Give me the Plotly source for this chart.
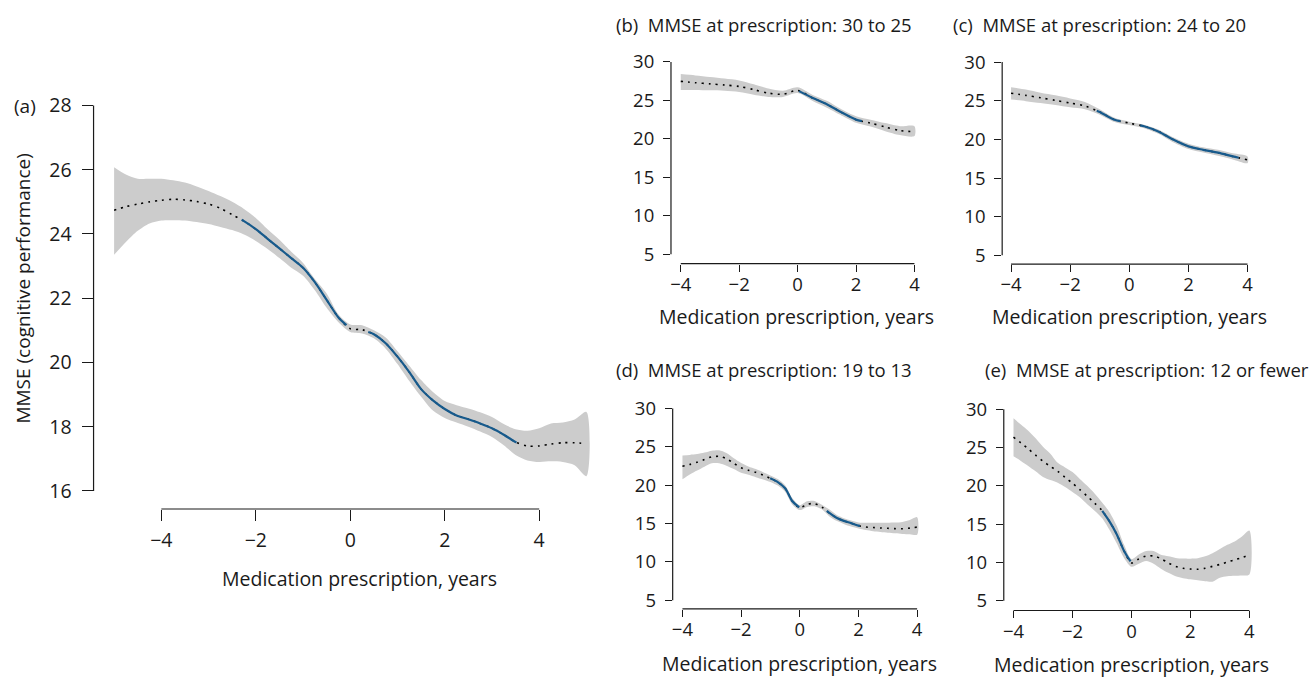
import numpy as np
import plotly.graph_objects as go

W, H = 1315, 680

# ---------------- data ----------------
# (a) all patients
a_x = [-5.0, -4.75, -4.5, -4.25, -4.0, -3.75, -3.5, -3.25, -3.0, -2.75, -2.5, -2.25, -2.0, -1.75, -1.5,
       -1.25, -1.0, -0.75, -0.5, -0.25, 0.0, 0.25, 0.5, 0.75, 1.0, 1.25, 1.5, 1.75, 2.0, 2.25, 2.5, 2.75,
       3.0, 3.25, 3.5, 3.75, 4.0, 4.25, 4.5, 4.75, 5.0]
a_mean = [24.74, 24.85, 24.93, 25.0, 25.05, 25.08, 25.06, 25.01, 24.93, 24.8, 24.6, 24.4, 24.15, 23.85, 23.55,
          23.25, 22.95, 22.5, 21.95, 21.4, 21.05, 21.02, 20.88, 20.6, 20.18, 19.7, 19.17, 18.82, 18.55, 18.35,
          18.23, 18.1, 17.95, 17.75, 17.52, 17.4, 17.4, 17.46, 17.5, 17.5, 17.47]
a_upper = [26.08, 25.85, 25.72, 25.72, 25.72, 25.67, 25.6, 25.48, 25.34, 25.18, 25.0, 24.78, 24.5, 24.15, 23.82,
           23.45, 23.1, 22.6, 22.15, 21.5, 21.18, 21.16, 21.0, 20.78, 20.35, 19.9, 19.45, 19.08, 18.8, 18.67,
           18.57, 18.45, 18.3, 18.08, 17.92, 17.87, 17.95, 18.1, 18.13, 18.22, 18.46]
a_lower = [23.35, 23.75, 24.1, 24.33, 24.42, 24.43, 24.42, 24.37, 24.31, 24.22, 24.12, 23.98, 23.78, 23.53, 23.25,
           22.95, 22.7, 22.25, 21.7, 21.25, 20.95, 20.9, 20.75, 20.43, 19.95, 19.42, 18.93, 18.5, 18.27, 18.13,
           18.0, 17.85, 17.68, 17.42, 17.12, 16.95, 16.9, 16.92, 16.9, 16.8, 16.46]
a_solid = [(-2.3, -0.08), (0.38, 3.52)]

# (b) MMSE at prescription 30 to 25
b_x = [-4.0, -3.5, -3.0, -2.5, -2.0, -1.5, -1.0, -0.5, 0.0, 0.5, 1.0, 1.5, 2.0, 2.5, 3.0, 3.5, 4.0]
b_mean = [27.48, 27.3, 27.15, 27.0, 26.82, 26.4, 25.95, 25.8, 26.3, 25.35, 24.5, 23.45, 22.5, 22.05, 21.55, 21.08, 20.93]
b_upper = [28.42, 28.25, 28.05, 27.85, 27.6, 27.1, 26.55, 26.25, 26.7, 25.75, 24.95, 23.85, 22.95, 22.5, 22.05, 21.65, 21.65]
b_lower = [26.36, 26.36, 26.32, 26.25, 26.1, 25.75, 25.45, 25.45, 25.95, 24.95, 24.05, 23.05, 22.1, 21.6, 21.0, 20.5, 20.37]
b_solid = [(0.05, 2.2)]

# (c) MMSE at prescription 24 to 20
c_x = [-4.0, -3.5, -3.0, -2.5, -2.0, -1.5, -1.0, -0.5, 0.0, 0.5, 1.0, 1.5, 2.0, 2.5, 3.0, 3.5, 4.0]
c_mean = [25.97, 25.7, 25.38, 25.05, 24.7, 24.33, 23.55, 22.55, 22.1, 21.7, 21.0, 19.95, 19.1, 18.65, 18.28, 17.8, 17.35]
c_upper = [26.74, 26.45, 26.05, 25.7, 25.3, 24.85, 23.9, 22.8, 22.3, 21.9, 21.25, 20.25, 19.45, 18.98, 18.65, 18.2, 17.78]
c_lower = [25.15, 24.95, 24.7, 24.45, 24.15, 23.9, 23.2, 22.25, 21.85, 21.45, 20.7, 19.6, 18.75, 18.3, 17.88, 17.4, 16.93]
c_solid = [(-1.1, -0.3), (0.37, 3.7)]

# (d) MMSE at prescription 19 to 13
d_x = [-4.0, -3.75, -3.5, -3.25, -3.0, -2.75, -2.5, -2.25, -2.0, -1.75, -1.5, -1.25, -1.0, -0.75, -0.5, -0.25,
       0.0, 0.25, 0.5, 0.75, 1.0, 1.25, 1.5, 1.75, 2.0, 2.25, 2.5, 2.75, 3.0, 3.25, 3.5, 3.75, 4.0]
d_mean = [22.48, 22.7, 23.0, 23.35, 23.7, 23.75, 23.45, 22.85, 22.27, 21.95, 21.68, 21.3, 20.88, 20.4, 19.6, 17.9,
          17.05, 17.5, 17.6, 17.15, 16.4, 15.75, 15.35, 15.05, 14.72, 14.55, 14.48, 14.42, 14.38, 14.33, 14.32, 14.4, 14.54]
d_upper = [23.86, 23.95, 24.05, 24.25, 24.5, 24.55, 24.2, 23.5, 22.9, 22.45, 22.1, 21.7, 21.27, 20.8, 20.0, 18.3,
           17.4, 17.9, 17.95, 17.45, 16.85, 16.15, 15.7, 15.4, 15.15, 15.1, 15.1, 15.1, 15.1, 15.12, 15.2, 15.45, 15.82]
d_lower = [20.76, 21.4, 21.9, 22.4, 22.85, 22.85, 22.55, 22.1, 21.62, 21.35, 21.05, 20.75, 20.42, 19.95, 19.15, 17.45,
           16.75, 17.15, 17.25, 16.85, 15.95, 15.35, 14.95, 14.6, 14.35, 14.15, 14.0, 13.9, 13.8, 13.72, 13.65, 13.6, 13.55]
d_solid = [(-1.01, -0.02), (0.92, 2.05)]

# (e) MMSE at prescription 12 or fewer
e_x = d_x
e_mean = [26.34, 25.6, 24.82, 24.0, 23.2, 22.55, 21.9, 21.1, 20.35, 19.5, 18.65, 17.75, 16.8, 15.4, 13.7, 11.5,
          9.95, 10.45, 10.85, 10.85, 10.5, 9.95, 9.5, 9.25, 9.15, 9.12, 9.25, 9.5, 9.75, 10.05, 10.35, 10.65, 11.02]
e_upper = [28.8, 28.0, 27.2, 26.2, 25.1, 24.2, 23.0, 22.4, 21.8, 20.9, 20.0, 19.0, 17.85, 16.6, 14.8, 12.3,
           10.45, 11.05, 11.5, 11.5, 11.0, 10.8, 10.6, 10.52, 10.5, 10.55, 10.8, 11.2, 11.75, 12.3, 12.75, 13.4, 14.17]
e_lower = [23.85, 23.25, 22.6, 21.9, 21.15, 20.75, 20.4, 19.85, 19.2, 18.5, 17.6, 16.75, 15.8, 14.3, 12.5, 10.6,
           9.45, 9.85, 10.2, 9.85, 9.2, 8.65, 8.2, 7.95, 7.8, 7.68, 7.55, 7.5, 8.0, 8.2, 8.27, 8.3, 8.44]
e_solid = [(-0.99, -0.03)]

a_yticks = [16, 18, 20, 22, 24, 26, 28]
small_yticks = [5, 10, 15, 20, 25, 30]
xticks = [-4, -2, 0, 2, 4]

titles = {
    "b": "(b)  MMSE at prescription: 30 to 25",
    "c": "(c)  MMSE at prescription: 24 to 20",
    "d": "(d)  MMSE at prescription: 19 to 13",
    "e": "(e)  MMSE at prescription: 12 or fewer",
}
x_title = "Medication prescription, years"
y_title = "MMSE (cognitive performance)"

# ---------------- style ----------------
FONT = "Open Sans"
WEIGHT = 400
BAND = "#cccccc"
BLUE = "#175a8c"
INK = "#1a1a1a"


def px(v):
    return v / W


def py(v):
    return 1 - v / H


def fnt(size):
    return dict(family=FONT, size=size, color=INK, weight=WEIGHT)


# panel geometry in pixels: (left, right, top, bottom), axis ranges
panels = {
    "a": dict(box=(91.7, 605.9, 83.4, 510.0), xr=[-5.435, 5.435], yr=[15.437, 28.563]),
    "b": dict(box=(670.0, 923.6, 48.2, 261.7), xr=[-4.335, 4.335], yr=[3.79, 31.21]),
    "c": dict(box=(1001.7, 1256.3, 48.8, 262.3), xr=[-4.30, 4.30], yr=[3.85, 31.15]),
    "d": dict(box=(671.7, 926.3, 399.6, 611.0), xr=[-4.333, 4.333], yr=[3.88, 31.12]),
    "e": dict(box=(1003.3, 1259.0, 399.2, 612.7), xr=[-4.33, 4.33], yr=[3.74, 31.26]),
}
data = {
    "a": (a_x, a_mean, a_upper, a_lower, a_solid),
    "b": (b_x, b_mean, b_upper, b_lower, b_solid),
    "c": (c_x, c_mean, c_upper, c_lower, c_solid),
    "d": (d_x, d_mean, d_upper, d_lower, d_solid),
    "e": (e_x, e_mean, e_upper, e_lower, e_solid),
}

fig = go.Figure()
layout = dict(
    width=W, height=H, margin=dict(l=0, r=0, t=0, b=0),
    paper_bgcolor="white", plot_bgcolor="white", showlegend=False,
    font=fnt(18),
)
shapes = []
annotations = []

for i, key in enumerate(["a", "b", "c", "d", "e"]):
    n = "" if i == 0 else str(i + 1)
    xa, ya = "x" + n, "y" + n
    x, m, up, lo, solid = data[key]
    x = np.array(x, float)
    # confidence band
    fig.add_trace(go.Scatter(
        x=list(x) + list(x[::-1]), y=list(up) + list(lo[::-1]),
        fill="toself", fillcolor=BAND, line=dict(width=0, shape="spline", smoothing=0.8),
        mode="lines", hoverinfo="skip", xaxis=xa, yaxis=ya))
    # dotted full estimate
    fig.add_trace(go.Scatter(
        x=x, y=m, mode="lines",
        line=dict(color="black", width=1.6, dash="2px,5px", shape="spline", smoothing=0.8),
        xaxis=xa, yaxis=ya))
    # significant segments (solid blue)
    for s0, s1 in solid:
        xs = [s0] + [v for v in x if s0 < v < s1] + [s1]
        ys = np.interp(xs, x, m)
        fig.add_trace(go.Scatter(
            x=xs, y=ys, mode="lines",
            line=dict(color=BLUE, width=2.2, shape="spline", smoothing=0.8),
            xaxis=xa, yaxis=ya))

    p = panels[key]
    l, r, t, b = p["box"]
    big = key == "a"
    yt = a_yticks if big else small_yticks
    tl = 11 if big else 7
    tfs = 19.5 if big else 18.5
    axis_common = dict(showgrid=False, zeroline=False, showline=False, ticks="outside",
                       ticklen=tl, tickwidth=1, tickcolor=INK,
                       tickfont=fnt(tfs), fixedrange=True)
    layout["xaxis" + n] = dict(axis_common, domain=[px(l), px(r)], range=p["xr"],
                               tickvals=xticks, anchor=ya, ticklabelstandoff=3 if big else -3)
    layout["yaxis" + n] = dict(axis_common, domain=[py(b), py(t)], range=p["yr"],
                               tickvals=yt, anchor=xa, ticklabelstandoff=6 if big else 5)
    # R-style axis lines spanning first to last tick
    shapes.append(dict(type="line", xref=xa, yref=ya + " domain", x0=xticks[0], x1=xticks[-1],
                       y0=0, y1=0, line=dict(color=INK, width=1.2)))
    shapes.append(dict(type="line", xref=xa + " domain", yref=ya, x0=0, x1=0,
                       y0=yt[0], y1=yt[-1], line=dict(color=INK, width=1.2)))

# axis titles and panel labels
annotations.append(dict(text=x_title, x=px(358.5), y=py(580), xref="paper", yref="paper",
                        showarrow=False, xanchor="center", yanchor="middle", font=fnt(19.5)))
annotations.append(dict(text=y_title, x=px(21), y=py(287), xref="paper", yref="paper",
                        showarrow=False, textangle=-90, xanchor="center", yanchor="middle",
                        font=fnt(19)))
annotations.append(dict(text="(a)", x=px(23), y=py(102), xref="paper", yref="paper",
                        showarrow=False, xanchor="center", yanchor="middle", font=fnt(19)))

title_pos = {"b": (613, 20), "c": (950, 20), "d": (613, 369), "e": (982, 369)}
xtitle_y = {"b": 315, "c": 315, "d": 666, "e": 667}
xcenter = {"b": 796.0, "c": 1129.0, "d": 799.0, "e": 1131.0}
for key in ["b", "c", "d", "e"]:
    tx, ty = title_pos[key]
    annotations.append(dict(text=titles[key], x=px(tx), y=py(ty), xref="paper", yref="paper",
                            showarrow=False, xanchor="left", yanchor="middle", font=fnt(18.5)))
    annotations.append(dict(text=x_title, x=px(xcenter[key]), y=py(xtitle_y[key]), xref="paper",
                            yref="paper", showarrow=False, xanchor="center", yanchor="middle",
                            font=fnt(19.5)))

layout["shapes"] = shapes
layout["annotations"] = annotations
fig.update_layout(**layout)
fig.write_html("out.html", config={"displayModeBar": False},
               post_script="document.body.style.margin='0';document.body.style.overflow='hidden';")
